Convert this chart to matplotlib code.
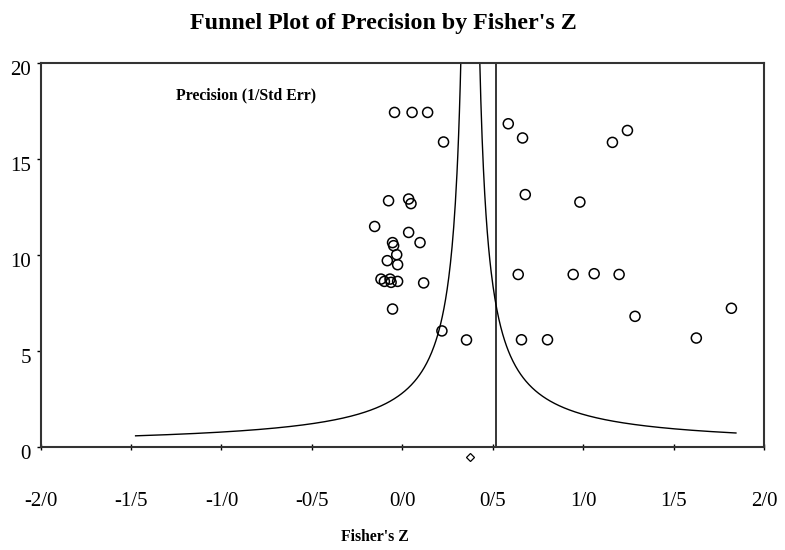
import numpy as np
import matplotlib
matplotlib.use('Agg')
import matplotlib.pyplot as plt
import matplotlib.transforms as mtransforms

# study points: Fisher's Z and precision (1/SE)
fisher_z = [-0.043, 0.054, 0.140, 0.228, -0.076, 0.035, 0.048, -0.153, 0.035, 0.098,
            -0.054, -0.048, -0.031, -0.083, -0.026, -0.118, -0.099, -0.068, -0.062, -0.026,
            0.118, -0.054, 0.219, 0.355, 0.586, 0.665, 1.245, 1.162, 0.680, 0.982,
            0.641, 0.945, 1.061, 1.199, 1.287, 0.659, 0.803, 1.626, 1.820]
precision = [17.41, 17.41, 17.41, 15.87, 12.81, 12.90, 12.66, 11.47, 11.16, 10.63,
             10.63, 10.47, 10.00, 9.69, 9.48, 8.73, 8.61, 8.73, 8.56, 8.61,
             8.53, 7.17, 6.03, 5.56, 16.82, 16.08, 16.47, 15.85, 13.13, 12.74,
             8.97, 8.97, 9.01, 8.97, 6.79, 5.57, 5.57, 5.66, 7.21]

combined_z = 0.376      # diamond / funnel centre
combined_p = -0.53
vline_z = 0.519
funnel_c = 1.05
left_end = -1.475
right_end = 1.845

xticks = [-2.0, -1.5, -1.0, -0.5, 0.0, 0.5, 1.0, 1.5, 2.0]
xticklabels = ['-2/0', '-1/5', '-1/0', '-0/5', '0/0', '0/5', '1/0', '1/5', '2/0']
yticks = [0, 5, 10, 15, 20]

plt.rcParams['font.family'] = 'Liberation Serif'

fig = plt.figure(figsize=(7.85, 5.5), dpi=100)
ax = fig.add_axes([0.0518, 0.1878, 0.9214, 0.6982])

# funnel lines
zl = np.linspace(left_end, combined_z - funnel_c / 20.5, 400)
ax.plot(zl, funnel_c / (combined_z - zl), color='black', lw=1.0)
zr = np.linspace(combined_z + funnel_c / 20.5, right_end, 400)
ax.plot(zr, funnel_c / (zr - combined_z), color='black', lw=1.0)
ax.axvline(vline_z, color='black', lw=1.1)

ax.scatter(fisher_z, precision, s=52, facecolors='none', edgecolors='black', linewidths=1.1, zorder=3)
ax.plot([combined_z], [combined_p], marker='D', ms=4.5, mfc='white', mec='black', mew=0.9,
        clip_on=False, zorder=4)

ax.set_xlim(-2.0, 2.0)
ax.set_ylim(0, 20)
ax.set_xticks(xticks)
ax.set_xticklabels(xticklabels, fontsize=15)
ax.set_yticks(yticks)
ax.set_yticklabels([str(v) for v in yticks], fontsize=15)
ax.tick_params(axis='x', direction='inout', length=5, pad=30, width=1)
ax.tick_params(axis='y', direction='out', length=3, pad=4, width=1)
for lab in ax.get_yticklabels():
    lab.set_transform(lab.get_transform() + mtransforms.ScaledTranslation(0, -5 / 100, fig.dpi_scale_trans))

for sp in ax.spines.values():
    sp.set_color('#333333')
    sp.set_linewidth(1.5)

fig.text(0.488, 0.957, "Funnel Plot of Precision by Fisher's Z", ha='center', va='center',
         fontsize=17.3, fontweight='bold')
ax.text(0.187, 0.915, 'Precision (1/Std Err)', transform=ax.transAxes, ha='left', va='center',
        fontsize=11.3, fontweight='bold')
fig.text(0.478, 0.024, "Fisher's Z", ha='center', va='center', fontsize=11.3, fontweight='bold')

fig.savefig('out.png', dpi=100)
